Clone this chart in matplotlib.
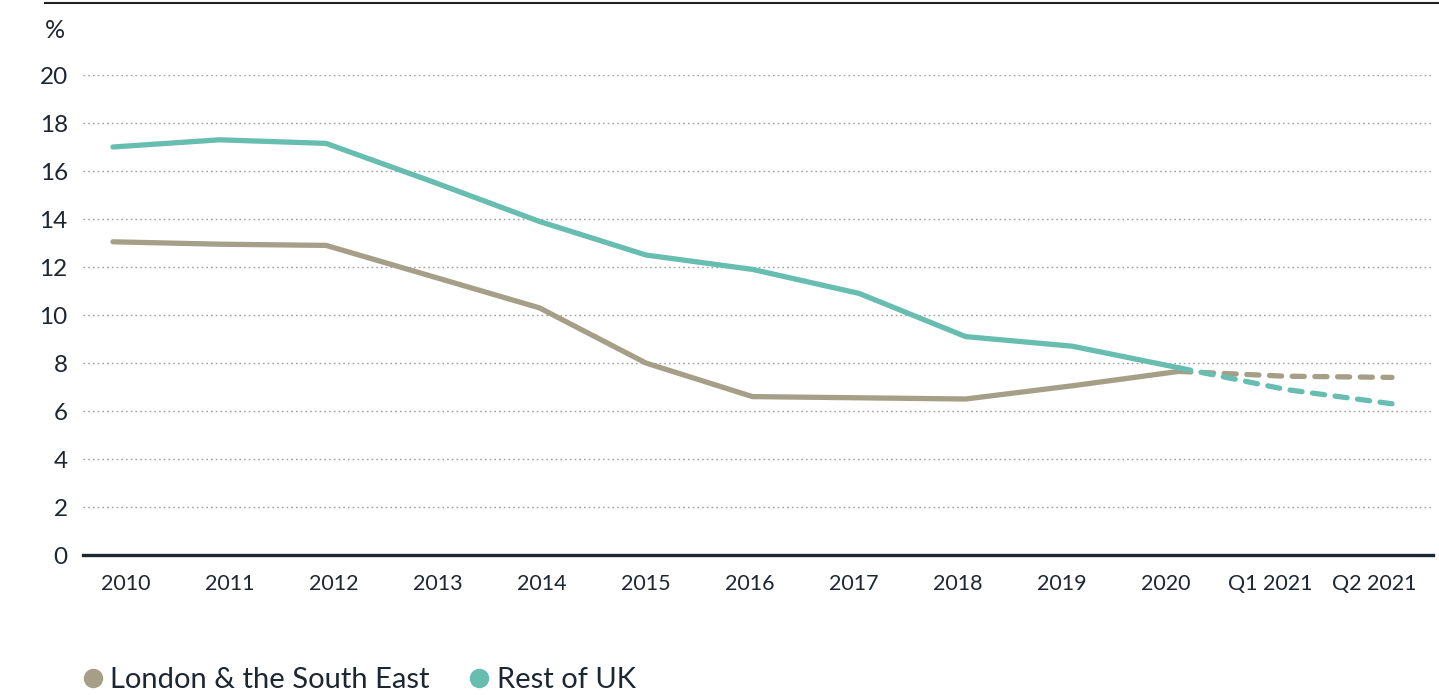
import numpy as np
import matplotlib
matplotlib.use('Agg')
import matplotlib.pyplot as plt
from matplotlib.lines import Line2D

plt.rcParams['font.family'] = ['Lato', 'DejaVu Sans']

# data
periods = ['2010', '2011', '2012', '2013', '2014', '2015', '2016', '2017',
           '2018', '2019', '2020', 'Q1 2021', 'Q2 2021']
london_se = [13.05, 12.95, 12.9, 11.6, 10.3, 8.0, 6.6, 6.55, 6.5, 7.05, 7.65, 7.45, 7.4]
rest_uk = [17.0, 17.3, 17.15, 15.55, 13.9, 12.5, 11.9, 10.9, 9.1, 8.7, 7.8, 6.9, 6.3]
n_actual = 11  # 2010-2020 solid, the rest dashed
yticks = [0, 2, 4, 6, 8, 10, 12, 14, 16, 18, 20]

c_london = '#a69f88'
c_rest = '#66bdb0'
c_text = '#1d2731'

fig = plt.figure(figsize=(14.39, 6.95), dpi=100)
W, H = 1439, 695
ax = fig.add_axes([83 / W, 1 - 555 / H, (1433 - 83) / W, (555 - 75) / H])

x = np.arange(len(periods))
for vals, col in [(london_se, c_london), (rest_uk, c_rest)]:
    ax.plot(x[:n_actual], vals[:n_actual], color=col, lw=3.8,
            solid_capstyle='round', solid_joinstyle='round', zorder=3)
    dl, = ax.plot(x[n_actual - 1:], vals[n_actual - 1:], color=col, lw=3.8,
                  dash_capstyle='round', zorder=3)
    dl.set_dashes([2.3, 2.0])

ax.set_ylim(0, 20)
ax.set_xlim(-0.281, 12.385)
ax.set_yticks(yticks)
ax.set_yticklabels([str(t) for t in yticks], fontsize=17.5, color=c_text)
ax.set_xticks(np.linspace(0.122, 11.83, len(periods)))
ax.set_xticklabels(periods, fontsize=15.5, color=c_text)
ax.tick_params(axis='both', length=0)
ax.tick_params(axis='x', pad=14)
ax.tick_params(axis='y', pad=11)

ax.yaxis.grid(True, linestyle=(0, (1.2, 2.2)), color='#a0a0a0', lw=1)
ax.set_axisbelow(True)
for s in ['top', 'right', 'left']:
    ax.spines[s].set_visible(False)
ax.spines['bottom'].set_color(c_text)
ax.spines['bottom'].set_linewidth(2.4)
ax.spines['bottom'].set_zorder(4)

# "%" unit label and the rule across the top
fig.text(45 / W, 1 - 31 / H, '%', fontsize=18, color=c_text, va='center', ha='left')
fig.add_artist(Line2D([45 / W, 1.0], [1 - 3 / H, 1 - 3 / H], color='#222222', lw=1.5))

handles = [Line2D([], [], marker='o', ls='none', color=c_london, markersize=13),
           Line2D([], [], marker='o', ls='none', color=c_rest, markersize=13)]
fig.legend(handles, ['London & the South East', 'Rest of UK'],
           loc='center left', bbox_to_anchor=(81 / W, 1 - 680 / H),
           ncol=2, frameon=False, fontsize=21, labelcolor=c_text,
           borderpad=0, borderaxespad=0, handlelength=0.8,
           handletextpad=0.2, columnspacing=1.3)

fig.savefig('out.png', dpi=100)
